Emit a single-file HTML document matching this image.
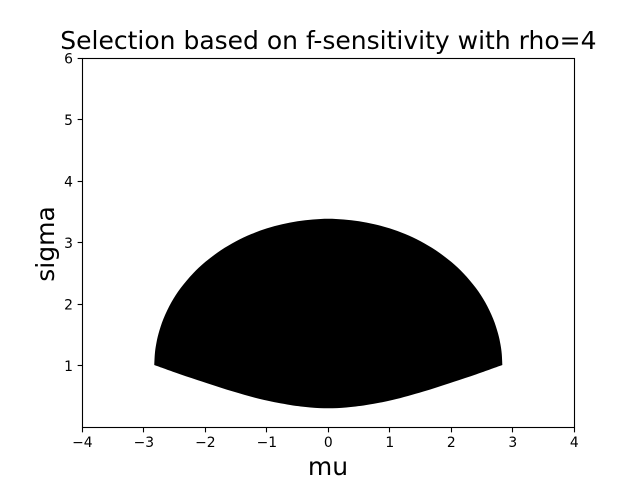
<!DOCTYPE html>
<html>
<head>
<meta charset="utf-8">
<style>
html,body{margin:0;padding:0;background:#fff;width:640px;height:480px;overflow:hidden}
svg{display:block}
text{font-family:"DejaVu Sans","Liberation Sans",sans-serif;fill:#000}
</style>
</head>
<body>
<svg id="chart" width="640" height="480" viewBox="0 0 640 480" xmlns="http://www.w3.org/2000/svg">
  <rect x="0" y="0" width="640" height="480" fill="#fff"/>
  <g id="marks"></g>
  <g id="axes"></g>
  <text x="328.4" y="49" font-size="25" text-anchor="middle">Selection based on f-sensitivity with rho=4</text>
  <text x="328" y="475" font-size="25" text-anchor="middle">mu</text>
  <text x="0" y="0" font-size="25" text-anchor="middle" transform="translate(54 244) rotate(-90)">sigma</text>
</svg>
<script>
const xTicks = [-4, -3, -2, -1, 0, 1, 2, 3, 4];
const yTicks = [1, 2, 3, 4, 5, 6];
const muUpper = [-2.83, -2.82, -2.80, -2.76, -2.68, -2.55, -2.4, -2.2, -2.0, -1.75, -1.5, -1.25, -1.0, -0.75, -0.5, -0.25, 0, 0.25, 0.5, 0.75, 1.0, 1.25, 1.5, 1.75, 2.0, 2.2, 2.4, 2.55, 2.68, 2.76, 2.80, 2.82, 2.83];
const sigmaUpper = [1.016, 1.2, 1.347, 1.528, 1.768, 2.037, 2.267, 2.503, 2.691, 2.878, 3.027, 3.144, 3.236, 3.304, 3.352, 3.381, 3.393, 3.381, 3.352, 3.304, 3.236, 3.144, 3.027, 2.878, 2.691, 2.503, 2.267, 2.037, 1.768, 1.528, 1.347, 1.2, 1.016];
const muLower = [2.83, 2.41, 1.97, 1.54, 1.05, 0.62, 0.29, 0, -0.29, -0.62, -1.05, -1.54, -1.97, -2.41, -2.83];
const sigmaLower = [1.016, 0.866, 0.72, 0.583, 0.448, 0.366, 0.326, 0.313, 0.326, 0.366, 0.448, 0.583, 0.72, 0.866, 1.016];

const NS = 'http://www.w3.org/2000/svg';
const plot = { left: 82.3, right: 574.3, top: 58.3, bottom: 427.5 };
const xMin = -4, xMax = 4, yMin = 0, yMax = 6;
function xScale(v) { return plot.left + (v - xMin) / (xMax - xMin) * (plot.right - plot.left); }
function yScale(v) { return plot.bottom - (v - yMin) / (yMax - yMin) * (plot.bottom - plot.top); }
function snap(p) { return Math.floor(p) + 0.5; }
function fmt(v) { return String(v).replace('-', '\u2212'); }

function smoothSegments(xs, ys) {
  let d = '';
  const pts = xs.map(function (x, i) { return [xScale(x), yScale(ys[i])]; });
  for (let i = 0; i < pts.length - 1; i++) {
    const p0 = pts[Math.max(i - 1, 0)], p1 = pts[i], p2 = pts[i + 1], p3 = pts[Math.min(i + 2, pts.length - 1)];
    const c1x = p1[0] + (p2[0] - p0[0]) / 6, c1y = p1[1] + (p2[1] - p0[1]) / 6;
    const c2x = p2[0] - (p3[0] - p1[0]) / 6, c2y = p2[1] - (p3[1] - p1[1]) / 6;
    d += ' C' + c1x.toFixed(2) + ' ' + c1y.toFixed(2) + ' ' + c2x.toFixed(2) + ' ' + c2y.toFixed(2) + ' ' + p2[0].toFixed(2) + ' ' + p2[1].toFixed(2);
  }
  return d;
}

const marks = document.getElementById('marks');
const axes = document.getElementById('axes');

const region = document.createElementNS(NS, 'path');


region.setAttribute('d', 'M' + xScale(muUpper[0]) + ' ' + yScale(sigmaUpper[0]) + smoothSegments(muUpper, sigmaUpper) +
  ' L' + xScale(muLower[0]) + ' ' + yScale(sigmaLower[0]) + smoothSegments(muLower, sigmaLower) + ' Z');
region.setAttribute('fill', '#000');
marks.appendChild(region);

xTicks.forEach(function (t) {
  const tick = document.createElementNS(NS, 'line');
  
  
  tick.setAttribute('x1', snap(xScale(t)));
  tick.setAttribute('x2', snap(xScale(t)));
  tick.setAttribute('y1', snap(plot.bottom));
  tick.setAttribute('y2', snap(plot.bottom) + 4.86);
  tick.setAttribute('stroke', '#000');
  tick.setAttribute('stroke-width', '1.11');
  axes.appendChild(tick);
  const label = document.createElementNS(NS, 'text');
  
  
  label.setAttribute('x', xScale(t));
  label.setAttribute('y', 447);
  label.setAttribute('font-size', '13.89');
  label.setAttribute('text-anchor', 'middle');
  label.textContent = fmt(t);
  axes.appendChild(label);
});

yTicks.forEach(function (t) {
  const tick = document.createElementNS(NS, 'line');
  
  
  tick.setAttribute('x1', snap(plot.left) - 4.86);
  tick.setAttribute('x2', snap(plot.left));
  tick.setAttribute('y1', snap(yScale(t)));
  tick.setAttribute('y2', snap(yScale(t)));
  tick.setAttribute('stroke', '#000');
  tick.setAttribute('stroke-width', '1.11');
  axes.appendChild(tick);
  const label = document.createElementNS(NS, 'text');
  
  
  label.setAttribute('x', plot.left - 9.4);
  label.setAttribute('y', yScale(t) + 5);
  label.setAttribute('font-size', '13.89');
  label.setAttribute('text-anchor', 'end');
  label.textContent = fmt(t);
  axes.appendChild(label);
});

const frame = document.createElementNS(NS, 'rect');


frame.setAttribute('x', snap(plot.left));
frame.setAttribute('y', snap(plot.top));
frame.setAttribute('width', snap(plot.right) - snap(plot.left));
frame.setAttribute('height', snap(plot.bottom) - snap(plot.top));
frame.setAttribute('fill', 'none');
frame.setAttribute('stroke', '#000');
frame.setAttribute('stroke-width', '1.11');
axes.appendChild(frame);
</script>
</body>
</html>
